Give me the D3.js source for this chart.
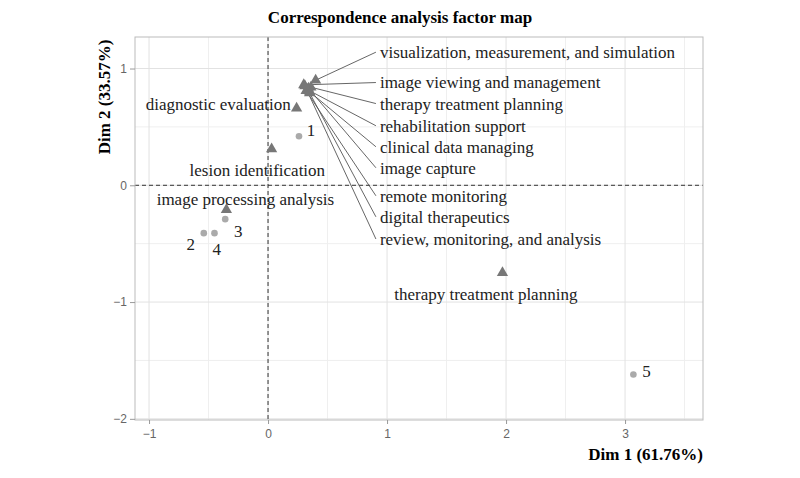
<!DOCTYPE html><html><head><meta charset="utf-8"><script src="https://cdn.jsdelivr.net/npm/d3@7"></script>
<style>body{margin:0;background:#fff}</style></head><body><svg id="c" width="800" height="478"></svg>
<script>
const colLabels=["visualization, measurement, and simulation","image viewing and management","therapy treatment planning","rehabilitation support","clinical data managing","image capture","remote monitoring","digital therapeutics","review, monitoring, and analysis","diagnostic evaluation","lesion identification","image processing analysis","therapy treatment planning"];
const colX=[0.40,0.30,0.36,0.33,0.35,0.34,0.32,0.35,0.31,0.24,0.03,-0.35,1.97];
const colY=[0.90,0.86,0.84,0.82,0.80,0.83,0.81,0.79,0.85,0.66,0.31,-0.21,-0.75];
const colLabX=[0.94,0.94,0.94,0.94,0.94,0.94,0.94,0.94,0.94,0.19,-0.09,-0.19,1.83];
const colLabY=[1.14,0.88,0.70,0.51,0.33,0.15,-0.09,-0.27,-0.46,0.70,0.13,-0.12,-0.93];
const rowLabels=["1","2","3","4","5"];
const rowX=[0.26,-0.54,-0.36,-0.45,3.07];
const rowY=[0.42,-0.41,-0.29,-0.41,-1.62];
const rowLabX=[0.36,-0.65,-0.25,-0.43,3.18];
const rowLabY=[0.47,-0.50,-0.39,-0.55,-1.59];
const xTicks=[-1,0,1,2,3], yTicks=[-2,-1,0,1];

const svg=d3.select("#c");
const L=135,R=703,T=37,B=420;
const x=d3.scaleLinear().domain([-1.118,3.655]).range([L,R]);
const y=d3.scaleLinear().domain([-2.01,1.27]).range([B,T]);
const g=svg.append("g");
const minor=[-0.5,0.5,1.5,2.5,3.5], minorY=[-1.5,-0.5,0.5];
g.selectAll(".mx").data(minor).join("line").attr("x1",d=>x(d)).attr("x2",d=>x(d)).attr("y1",T).attr("y2",B).attr("stroke","#efefef");
g.selectAll(".my").data(minorY).join("line").attr("y1",d=>y(d)).attr("y2",d=>y(d)).attr("x1",L).attr("x2",R).attr("stroke","#efefef");
g.selectAll(".gx").data(xTicks).join("line").attr("x1",d=>x(d)).attr("x2",d=>x(d)).attr("y1",T).attr("y2",B).attr("stroke","#e2e2e2");
g.selectAll(".gy").data(yTicks).join("line").attr("y1",d=>y(d)).attr("y2",d=>y(d)).attr("x1",L).attr("x2",R).attr("stroke","#e2e2e2");
g.append("line").attr("x1",x(0)).attr("x2",x(0)).attr("y1",T).attr("y2",B).attr("stroke","#333").attr("stroke-dasharray","4,3");
g.append("line").attr("y1",y(0)).attr("y2",y(0)).attr("x1",L).attr("x2",R).attr("stroke","#333").attr("stroke-dasharray","4,3");
g.append("rect").attr("x",L).attr("y",T).attr("width",R-L).attr("height",B-T).attr("fill","none").attr("stroke","#bbb");
const xa=svg.append("g").attr("transform",`translate(0,${B})`).call(d3.axisBottom(x).tickValues(xTicks).tickSize(4).tickPadding(5).tickFormat(d3.format("d")));
const ya=svg.append("g").attr("transform",`translate(${L},0)`).call(d3.axisLeft(y).tickValues(yTicks).tickSize(5).tickPadding(3).tickFormat(d3.format("d")));
[xa,ya].forEach(a=>{a.select(".domain").remove();a.selectAll("line").attr("stroke","#999");a.selectAll("text").attr("fill","#666").style("font-family","Liberation Sans").style("font-size","12px");});
const serif="Liberation Serif";
const idx=d3.range(9);
svg.selectAll(".ld").data(idx).join("line").attr("x1",i=>x(colX[i])).attr("y1",i=>y(colY[i])).attr("x2",i=>x(colLabX[i])-4).attr("y2",i=>y(colLabY[i])).attr("stroke","#555").attr("stroke-width",0.9);
const tri=d3.symbol().type(d3.symbolTriangle).size(55);
svg.selectAll(".tr").data(colLabels).join("path").attr("d",tri).attr("transform",(d,i)=>`translate(${x(colX[i])},${y(colY[i])})`).attr("fill","#777");
svg.selectAll(".pt").data(rowLabels).join("circle").attr("cx",(d,i)=>x(rowX[i])).attr("cy",(d,i)=>y(rowY[i])).attr("r",3.3).attr("fill","#aaa");
svg.selectAll(".cl").data(colLabels).join("text").attr("x",(d,i)=>x(colLabX[i])).attr("y",(d,i)=>y(colLabY[i])).attr("dy","0.35em")
 .attr("text-anchor",(d,i)=>i<9?"start":(i==9?"end":"middle")).style("font-family",serif).style("font-size","17px").attr("fill","#222").text(d=>d);
svg.selectAll(".rl").data(rowLabels).join("text").attr("x",(d,i)=>x(rowLabX[i])).attr("y",(d,i)=>y(rowLabY[i])).attr("dy","0.35em").attr("text-anchor","middle").style("font-family",serif).style("font-size","17px").attr("fill","#222").text(d=>d);
svg.append("text").attr("x",400).attr("y",23).attr("text-anchor","middle").style("font-family",serif).style("font-weight","bold").style("font-size","17px").text("Correspondence analysis factor map");
svg.append("text").attr("x",R).attr("y",460).attr("text-anchor","end").style("font-family",serif).style("font-weight","bold").style("font-size","17px").text("Dim 1 (61.76%)");
svg.append("text").attr("transform","translate(110,97) rotate(-90)").attr("text-anchor","middle").style("font-family",serif).style("font-weight","bold").style("font-size","17px").text("Dim 2 (33.57%)");
</script></body></html>
